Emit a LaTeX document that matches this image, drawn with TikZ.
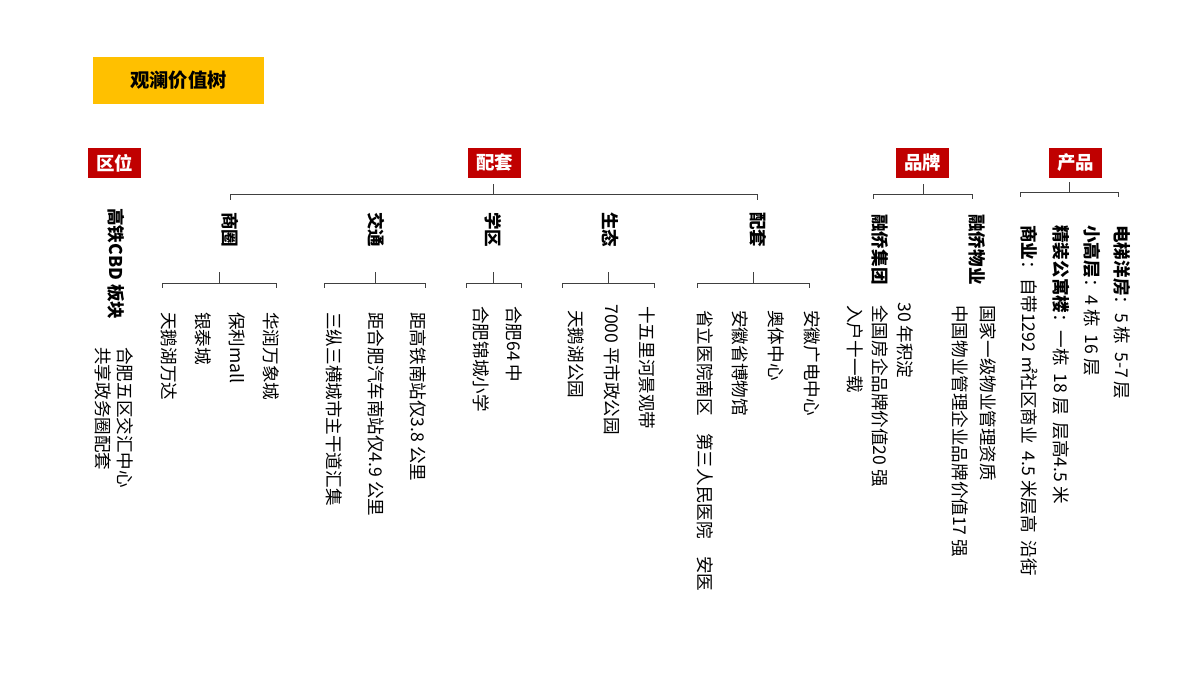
\documentclass[tikz,border=0pt]{standalone}
\usepackage{fontspec}
\setmainfont{Noto Sans CJK SC}
\definecolor{hdr}{HTML}{C00000}
\definecolor{ttl}{HTML}{FFC000}
\begin{document}
\begin{tikzpicture}[x=0.02cm,y=-0.02cm,
  v/.style={rotate=-90,anchor=west,inner sep=0pt,font=\fontsize{10}{12}\selectfont},
  vb/.style={v,font=\fontsize{10}{12}\selectfont\bfseries},
  red/.style={fill=hdr,text=white,font=\fontsize{10.5}{12}\selectfont\bfseries,minimum width=1.06cm,minimum height=0.6cm,inner sep=0pt},
  ln/.style={draw=black!75,line width=0.5pt}]
\useasboundingbox (0,0) rectangle (1200,675);
\node[fill=ttl,minimum width=3.42cm,minimum height=0.94cm,font=\fontsize{11}{13}\selectfont\bfseries] (title) at (178.5,80.5) {观澜价值树};
\node[red] (qw) at (114.5,163) {区位};
\node[red] (pt) at (494.5,163) {配套};
\node[red] (pp) at (922.5,163) {品牌};
\node[red] (cp) at (1075.5,163) {产品};
% brackets
\draw[ln] (230,200) -- (230,194) -- (757,194) -- (757,200) (493,194) -- (493,184);
\draw[ln] (873,199) -- (873,194) -- (972,194) -- (972,199) (923,194) -- (923,184);
\draw[ln] (1020,197) -- (1020,192) -- (1118,192) -- (1118,197) (1069,192) -- (1069,182);
% 区位
\node[vb] (q0) at (116,208) {高铁CBD 板块};
\node[v] (q1) at (125,347) {合肥五区交汇中心};
\node[v] (q2) at (103,347) {共享政务圈配套};
% sub headers
\node[vb] (s1) at (230,212) {商圈};
\node[vb] (s2) at (376,212) {交通};
\node[vb] (s3) at (493,212) {学区};
\node[vb] (s4) at (610,212) {生态};
\node[vb] (s5) at (758,212) {配套};
% sub brackets
\foreach \a/\b/\c in {162/276/219, 324/425/375, 466/521/493, 562/654/608, 697/809/753}
  \draw[ln] (\a,288) -- (\a,283) -- (\b,283) -- (\b,288) (\c,283) -- (\c,272);
% items
\node[v] at (271,312) {华润万象城};
\node[v] at (237,312) {保利mall};
\node[v] at (203,312) {银泰城};
\node[v] at (169,312) {天鹅湖万达};
\node[v] at (418,312) {距高铁南站仅3.8 公里};
\node[v] at (376,312) {距合肥汽车南站仅4.9 公里};
\node[v] at (334,312) {三纵三横城市主干道汇集};
\node[v] at (514,306) {合肥64 中};
\node[v] at (481,306) {合肥锦城小学};
\node[v] at (647,306) {十五里河景观带};
\node[v] at (612,304) {7000 平市政公园};
\node[v] at (576,310) {天鹅湖公园};
\node[v] at (812,310) {安徽广电中心};
\node[v] at (776,310) {奥体中心};
\node[v] at (740,310) {安徽省博物馆};
\node[v] at (705,310) {省立医院南区\quad 第三人民医院\quad 安医};
% 品牌
\node[vb] (b1) at (880,214) {融侨集团};
\node[vb] (b2) at (977,214) {融侨物业};
\node[v] at (905,302) {30 年积淀};
\node[v] at (880,305) {全国房企品牌价值20 强};
\node[v] at (855,305) {入户十一载};
\node[v] at (988,305) {国家一级物业管理资质};
\node[v] at (960,305) {中国物业管理企业品牌价值17 强};
% 产品
\node[v] at (1122,225) {\textbf{电梯洋房}：5 栋\ \ 5-7 层};
\node[v] at (1092,225) {\textbf{小高层}：4 栋\ \ 16 层};
\node[v] at (1061,225) {\textbf{精装公寓楼}：一栋\ \ 18 层\ \ 层高4.5 米};
\node[v] at (1029,225) {\textbf{商业}：自带1292 ㎡社区商业\ \ 4.5 米层高\ \ 沿街};
\end{tikzpicture}
\end{document}
